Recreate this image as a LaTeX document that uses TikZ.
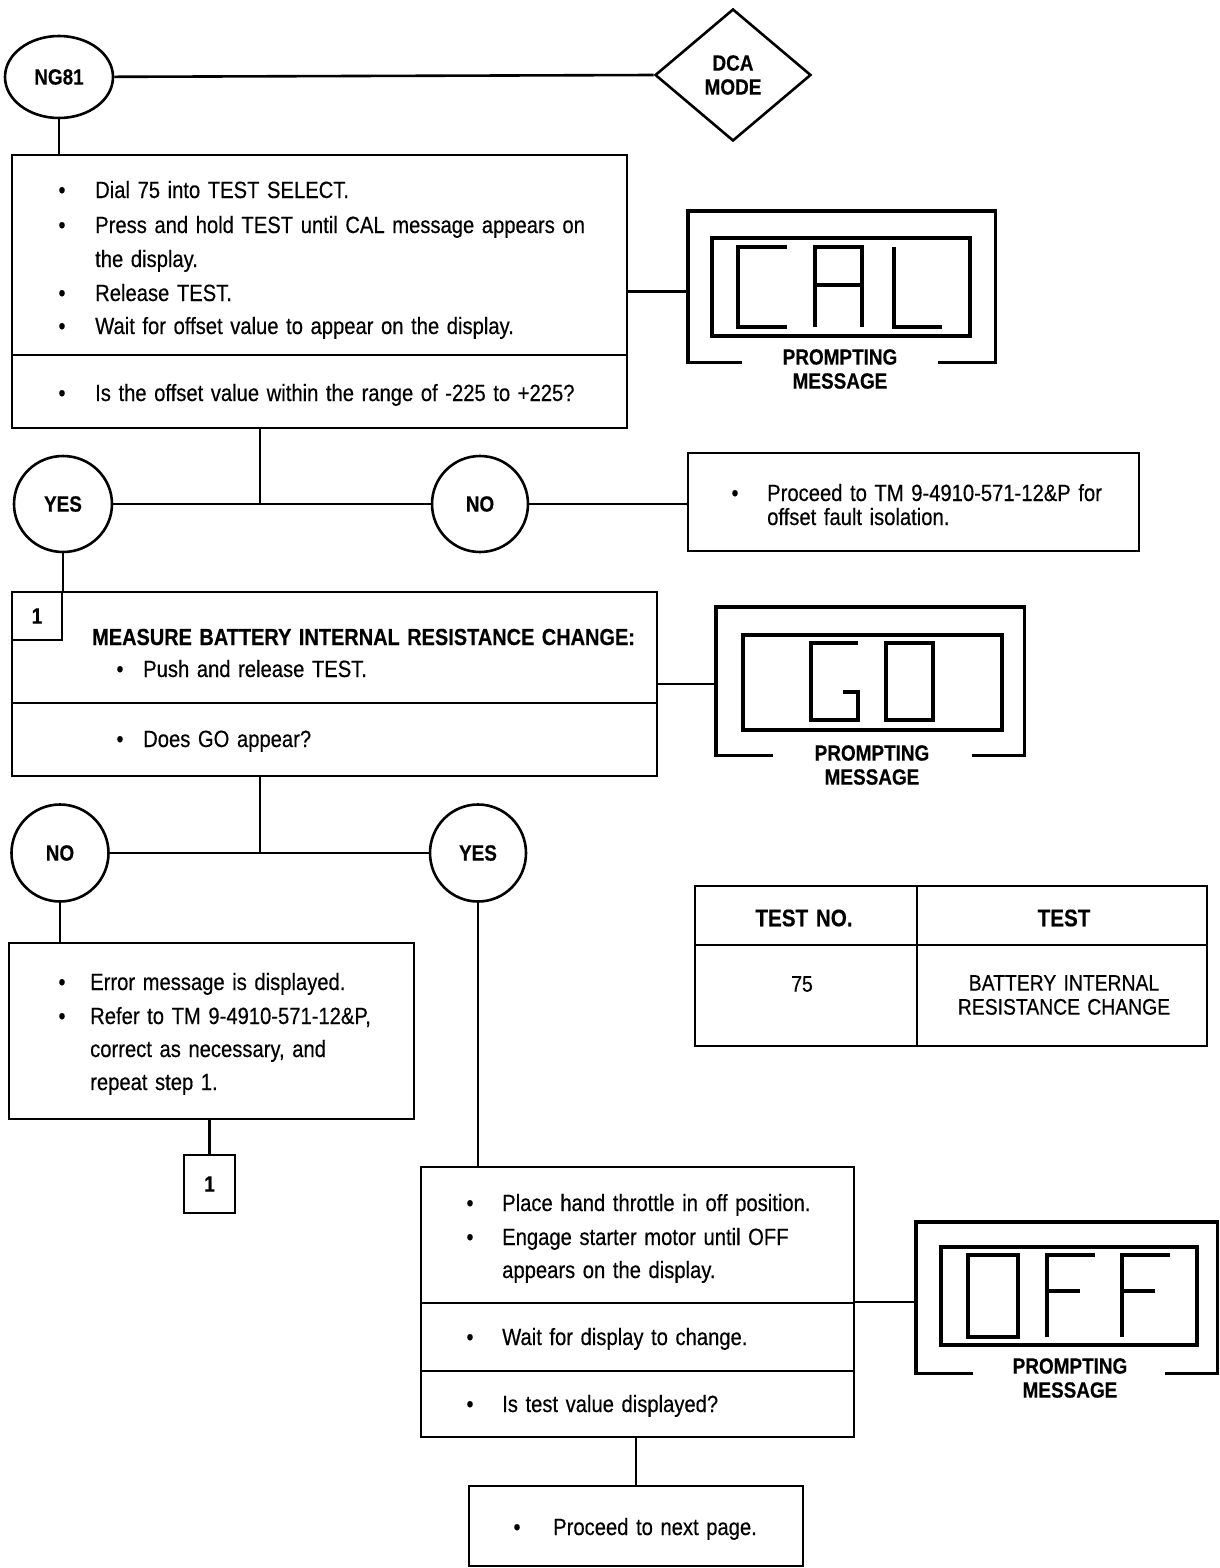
\documentclass[tikz,border=0pt]{standalone}
\usepackage{fontspec}
\setmainfont[FakeStretch=0.86, WordSpace=1.35, FakeBold=0.4]{Liberation Sans}
\usetikzlibrary{shapes.geometric, calc}

\newcommand{\txtfont}{\fontsize{23.5}{28}\selectfont}
\newcommand{\labfont}{\fontsize{22}{24}\selectfont\bfseries}
\newcommand{\tabfont}{\fontsize{22.5}{24}\selectfont}

\begin{document}
\begin{tikzpicture}[x=1pt, y=-1pt,
  box/.style={draw, line width=2.6pt, inner sep=0pt},
  oval/.style={draw, ellipse, line width=2.6pt, inner sep=0pt, font=\labfont},
  txt/.style={anchor=base west, inner sep=0pt, font=\txtfont},
  bul/.style={anchor=base, inner sep=0pt, font=\txtfont},
  lab/.style={inner sep=0pt, font=\labfont, align=center},
  frame/.style={inner sep=0pt},
  link/.style={line width=2.6pt},
  seg/.style={line width=3.4pt}]
\useasboundingbox (0,0) rectangle (1219,1568);

% Start oval and mode diamond
\node[oval, minimum width=108, minimum height=82] (ng81) at (59,77) {NG81};
\node[draw, diamond, line width=2.6pt, minimum width=156, minimum height=132, lab] (dca) at (733,75) {DCA\\MODE};
\draw[link] (ng81) -- (dca.west);

% Step box 1
\node[box, minimum width=615, minimum height=273] (box1) at (319.5,291.5) {};
\draw[link] (box1.west |- 0,355) -- (box1.east |- 0,355);
\draw[link] (ng81.south) -- (ng81.south |- box1.north);
\foreach \y [count=\i] in {198,233,301,334,401}
  \node[bul] (b1d\i) at (62,\y) {•};
\node[txt] (b1t1) at (95,198) {Dial 75 into TEST SELECT.};
\node[txt] (b1t2) at (95,233) {Press and hold TEST until CAL message appears on};
\node[txt] (b1t3) at (95,267) {the display.};
\node[txt] (b1t4) at (95,301) {Release TEST.};
\node[txt] (b1t5) at (95,334) {Wait for offset value to appear on the display.};
\node[txt] (b1t6) at (95,401) {Is the offset value within the range of -225 to +225?};

% CAL prompting display
\node[frame, minimum width=307, minimum height=151] (cal) at (841.5,286.5) {};
\draw[seg] ($(cal.south west)+(54,0)$) -- (cal.south west) -- (cal.north west)
  -- (cal.north east) -- (cal.south east) -- ++(-57,0);
\draw[seg] (712,238) rectangle (970,336);
\draw[seg] (787,247) -- (738,247) -- (738,327) -- (787,327);
\draw[seg] (815,327) -- (815,247) -- (862,247) -- (862,327) (815,285) -- (862,285);
\draw[seg] (894,247) -- (894,327) -- (942,327);
\node[lab] (calmsg) at (840,369) {PROMPTING\\MESSAGE};
\draw[link] (box1.east) -- (box1.east -| cal.west);

% First decision
\coordinate (j1) at (260,504);
\node[oval, minimum width=98, minimum height=96] (yes1) at (63,504) {YES};
\node[oval, minimum width=96, minimum height=96] (no1) at (480,504) {NO};
\node[box, minimum width=451, minimum height=98] (proc) at (913.5,502) {};
\draw[link] (box1.south -| j1) -- (j1);
\draw[link] (yes1.east) -- (no1.west);
\draw[link] (no1.east) -- (no1.east -| proc.west);
\node[bul] (pd1) at (735,501) {•};
\node[txt] (pt1) at (767,501) {Proceed to TM 9-4910-571-12\&P for};
\node[txt] (pt2) at (767,525) {offset fault isolation.};

% Step box 2
\node[box, minimum width=645, minimum height=184] (box2) at (334.5,684) {};
\draw[link] (box2.west |- 0,703) -- (box2.east |- 0,703);
\node[box, minimum width=50, minimum height=48, font=\labfont] (tag1) at (37,616) {1};
\draw[link] (yes1.south) -- (yes1.south |- box2.north);
\node[txt, font=\fontsize{23.2}{28}\selectfont\bfseries] (b2t1) at (92,645) {MEASURE BATTERY INTERNAL RESISTANCE CHANGE:};
\node[bul] (b2d1) at (120,677) {•};
\node[txt] (b2t2) at (143,677) {Push and release TEST.};
\node[bul] (b2d2) at (120,747) {•};
\node[txt] (b2t3) at (143,747) {Does GO appear?};

% GO prompting display
\node[frame, minimum width=308, minimum height=148] (go) at (870,681) {};
\draw[seg] ($(go.south west)+(57,0)$) -- (go.south west) -- (go.north west)
  -- (go.north east) -- (go.south east) -- ++(-52,0);
\draw[seg] (743,635) rectangle (1002,730);
\draw[seg] (858,643) -- (811,643) -- (811,720) -- (858,720) -- (858,692) -- (843,692);
\draw[seg] (886,643) rectangle (933,720);
\node[lab] (gomsg) at (872,765) {PROMPTING\\MESSAGE};
\draw[link] (box2.east) -- (box2.east -| go.west);

% Second decision
\coordinate (j2) at (260,853);
\node[oval, minimum width=97, minimum height=97] (no2) at (60,853) {NO};
\node[oval, minimum width=96, minimum height=97] (yes2) at (478,853) {YES};
\draw[link] (box2.south -| j2) -- (j2);
\draw[link] (no2.east) -- (yes2.west);

% Error branch
\node[box, minimum width=405, minimum height=176] (box3) at (211.5,1031) {};
\draw[link] (no2.south) -- (no2.south |- box3.north);
\foreach \y [count=\i] in {990,1024}
  \node[bul] (b3d\i) at (62,\y) {•};
\node[txt] (b3t1) at (90,990) {Error message is displayed.};
\node[txt] (b3t2) at (90,1024) {Refer to TM 9-4910-571-12\&P,};
\node[txt] (b3t3) at (90,1057) {correct as necessary, and};
\node[txt] (b3t4) at (90,1090) {repeat step 1.};
\node[box, minimum width=51, minimum height=58, font=\labfont] (tag2) at (209.5,1184) {1};
\draw[link] (tag2.north |- box3.south) -- (tag2.north);

% Test table
\node[box, minimum width=512, minimum height=160] (tab) at (951,966) {};
\draw[link] (tab.west |- 0,945) -- (tab.east |- 0,945);
\draw[link] (tab.north -| 917,0) -- (tab.south -| 917,0);
\node[lab, font=\fontsize{24}{26}\selectfont\bfseries] (tabh1) at (804,918) {TEST NO.};
\node[lab, font=\fontsize{24}{26}\selectfont\bfseries] (tabh2) at (1064,918) {TEST};
\node[inner sep=0pt, font=\tabfont] (tabc1) at (802,984) {75};
\node[inner sep=0pt, font=\tabfont, align=center] (tabc2) at (1064,995) {BATTERY INTERNAL\\RESISTANCE CHANGE};

% Step box 3
\node[box, minimum width=433, minimum height=270] (box4) at (637.5,1302) {};
\draw[link] (box4.west |- 0,1303) -- (box4.east |- 0,1303);
\draw[link] (box4.west |- 0,1371) -- (box4.east |- 0,1371);
\draw[link] (yes2.south) -- (yes2.south |- box4.north);
\foreach \y [count=\i] in {1211,1245,1345,1412}
  \node[bul] (b4d\i) at (470,\y) {•};
\node[txt] (b4t1) at (502,1211) {Place hand throttle in off position.};
\node[txt] (b4t2) at (502,1245) {Engage starter motor until OFF};
\node[txt] (b4t3) at (502,1278) {appears on the display.};
\node[txt] (b4t4) at (502,1345) {Wait for display to change.};
\node[txt] (b4t5) at (502,1412) {Is test value displayed?};

% OFF prompting display
\node[frame, minimum width=301, minimum height=151] (off) at (1066.5,1297.5) {};
\draw[seg] ($(off.south west)+(57,0)$) -- (off.south west) -- (off.north west)
  -- (off.north east) -- (off.south east) -- ++(-52,0);
\draw[seg] (941,1247) rectangle (1197,1345);
\draw[seg] (968,1255) rectangle (1018,1337);
\draw[seg] (1095,1255) -- (1047,1255) -- (1047,1337) (1047,1291) -- (1080,1291);
\draw[seg] (1170,1255) -- (1122,1255) -- (1122,1337) (1122,1291) -- (1155,1291);
\node[lab] (offmsg) at (1070,1378) {PROMPTING\\MESSAGE};
\draw[link] (box4.east) -- (box4.east -| off.west);

% Next page
\node[box, minimum width=334, minimum height=80] (box5) at (636,1526) {};
\draw[link] (box5.north |- box4.south) -- (box5.north);
\node[bul] (b5d1) at (517,1535) {•};
\node[txt] (b5t1) at (553,1535) {Proceed to next page.};
\end{tikzpicture}
\end{document}
